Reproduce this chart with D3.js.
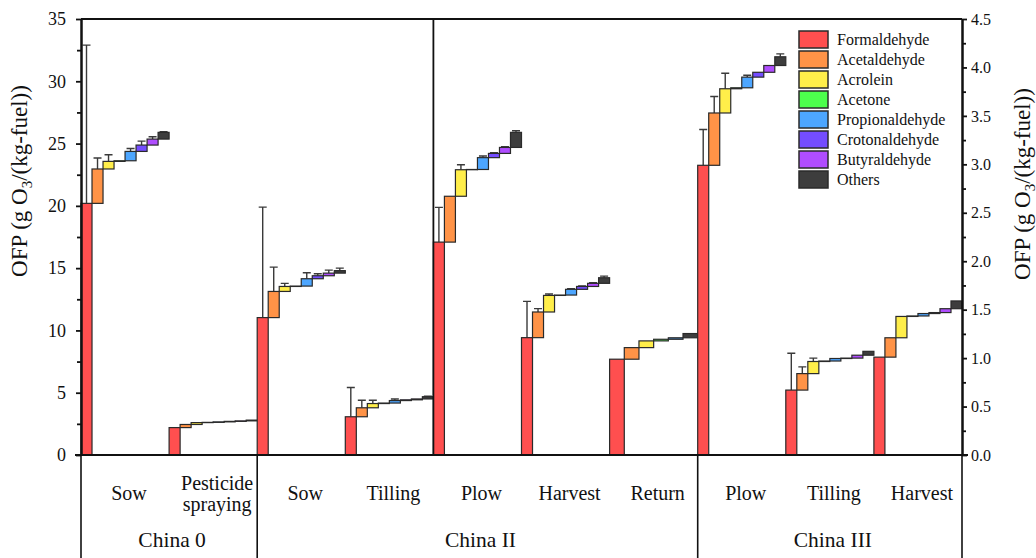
<!DOCTYPE html>
<html>
<head>
<meta charset="utf-8">
<script src="https://cdn.jsdelivr.net/npm/d3@7"></script>
<style>
  html, body { margin: 0; padding: 0; background: #fff; overflow: hidden; }
  svg { display: block; }
  svg text { font-family: 'Liberation Serif', 'Times New Roman', Times, serif; }
</style>
</head>
<body>
<svg id="chart"></svg>
<script>
// Stages along the x axis and the region each one belongs to
const stages = ['Sow', 'Pesticide spraying', 'Sow', 'Tilling', 'Plow', 'Harvest', 'Return', 'Plow', 'Tilling', 'Harvest']
const stageRegion = ['China 0', 'China 0', 'China II', 'China II', 'China II', 'China II', 'China II', 'China III', 'China III', 'China III']
const regions = ['China 0', 'China II', 'China III']

const species = ['Formaldehyde', 'Acetaldehyde', 'Acrolein', 'Acetone', 'Propionaldehyde', 'Crotonaldehyde', 'Butyraldehyde', 'Others']
const speciesColors = ['#ff4f4f', '#ff9347', '#ffee4a', '#4dff4d', '#4da6ff', '#744dff', '#b04dff', '#3d3d3d']

// OFP contribution of each species (China 0 / II on left axis, China III on right axis)
const c0Sow = [20.2, 2.76, 0.61, 0.05, 0.75, 0.51, 0.48, 0.54]
const c0Pesticide = [2.2, 0.25, 0.15, 0.02, 0.04, 0.04, 0.04, 0.06]
const c2Sow = [11.03, 2.1, 0.4, 0.03, 0.59, 0.24, 0.21, 0.2]
const c2Tilling = [3.07, 0.72, 0.34, 0.04, 0.2, 0.06, 0.07, 0.18]
const c2Plow = [17.09, 3.68, 2.13, 0.02, 0.95, 0.34, 0.48, 1.21]
const c2Harvest = [9.42, 2.06, 1.33, 0.03, 0.46, 0.23, 0.25, 0.45]
const c2Return = [7.69, 0.93, 0.54, 0.13, 0.12, null, null, 0.34]
const c3Plow = [2.99, 0.54, 0.25, 0.01, 0.11, 0.05, 0.07, 0.09]
const c3Tilling = [0.67, 0.17, 0.125, 0.005, 0.026, 0.004, 0.03, 0.04]
const c3Harvest = [1.01, 0.2, 0.22, 0.005, 0.025, 0.01, 0.04, 0.08]

// standard deviations
const c0SowErr = [12.7, 0.88, 0.53, 0, 0.23, 0.32, 0.19, 0.05]
const c0PesticideErr = [0, 0, 0, 0, 0, 0, 0, 0]
const c2SowErr = [8.87, 1.95, 0.25, 0, 0.48, 0.16, 0.24, 0.2]
const c2TillingErr = [2.35, 0.61, 0.27, 0, 0.13, 0, 0, 0.05]
const c2PlowErr = [2.79, 0, 0.4, 0, 0.13, 0.05, 0.05, 0.13]
const c2HarvestErr = [2.91, 0.27, 0.11, 0, 0.05, 0.05, 0.05, 0.13]
const c2ReturnErr = [0, 0, 0, 0, 0, null, null, 0]
const c3PlowErr = [0.37, 0.17, 0.16, 0, 0.02, 0, 0, 0.03]
const c3TillingErr = [0.38, 0.07, 0.035, 0, 0, 0, 0, 0]
const c3HarvestErr = [0, 0, 0, 0, 0, 0, 0, 0]

const stageValues = [c0Sow, c0Pesticide, c2Sow, c2Tilling, c2Plow, c2Harvest, c2Return, c3Plow, c3Tilling, c3Harvest]
const stageErrors = [c0SowErr, c0PesticideErr, c2SowErr, c2TillingErr, c2PlowErr, c2HarvestErr, c2ReturnErr, c3PlowErr, c3TillingErr, c3HarvestErr]

const font = "'Liberation Serif', 'Times New Roman', Times, serif"
const width = 1036
const height = 558
const margin = { top: 19, right: 74, bottom: 103, left: 81 }
const innerWidth = width - margin.left - margin.right
const innerHeight = height - margin.top - margin.bottom

const svg = d3.select('#chart')
  .attr('width', width)
  .attr('height', height)
  .attr('font-family', font)

const g = svg.append('g')
  .attr('transform', `translate(${margin.left},${margin.top})`)

const xScale = d3.scaleBand()
  .domain(d3.range(stages.length))
  .range([0, innerWidth])

const yLeft = d3.scaleLinear().domain([0, 35]).range([innerHeight, 0])
const yRight = d3.scaleLinear().domain([0, 4.5]).range([innerHeight, 0])

// Cascading steps
stages.forEach((stage, i) => {
  const y = stageRegion[i] === 'China III' ? yRight : yLeft
  const steps = []
  let cum = 0
  stageValues[i].forEach((v, k) => {
    if (v == null) return
    steps.push({ k, y0: cum, y1: cum + v, err: stageErrors[i][k] })
    cum += v
  })
  const step = xScale.bandwidth() / steps.length
  const sg = g.append('g')

  sg.selectAll('.err')
    .data(steps.filter(d => d.err > 0))
    .enter().append('path')
    .attr('class', 'err')
    .attr('d', d => {
      const j = steps.indexOf(d)
      const cx = xScale(i) + step * (j + 0.5)
      return `M${cx},${y(d.y1)}V${y(d.y1 + d.err)}M${cx - 4},${y(d.y1 + d.err)}H${cx + 4}`
    })
    .attr('fill', 'none')
    .attr('stroke', '#3a3a3a')
    .attr('stroke-width', 1.4)

  sg.selectAll('.step')
    .data(steps)
    .enter().append('rect')
    .attr('class', 'step')
    .attr('x', (d, j) => xScale(i) + step * j)
    .attr('y', d => y(d.y1))
    .attr('width', step)
    .attr('height', d => y(d.y0) - y(d.y1))
    .attr('fill', d => speciesColors[d.k])
    .attr('stroke', '#2a2a2a')
    .attr('stroke-width', 1.2)
})

// Frame and divider
g.append('line')
  .attr('x1', 0).attr('x2', innerWidth)
  .attr('y1', 0).attr('y2', 0)
  .attr('stroke', '#111').attr('stroke-width', 1.8)
g.append('line')
  .attr('x1', xScale(4)).attr('x2', xScale(4))
  .attr('y1', 0).attr('y2', innerHeight)
  .attr('stroke', '#111').attr('stroke-width', 1.8)

// Axes
const styleAxis = (sel, size) => {
  sel.attr('font-family', font)
  sel.select('.domain').attr('stroke', '#111').attr('stroke-width', 2)
  sel.selectAll('.tick line').attr('stroke', '#111').attr('stroke-width', 1.8)
  sel.selectAll('.tick text')
    .attr('font-size', size)
    .attr('fill', '#111')
}

g.append('g')
  .call(d3.axisLeft(yLeft).tickValues(d3.range(2.5, 35, 5)).tickSize(4).tickFormat('').tickSizeOuter(0))
  .call(styleAxis, '18px')
g.append('g')
  .call(d3.axisLeft(yLeft).tickValues(d3.range(0, 36, 5)).tickSize(5).tickPadding(10).tickSizeOuter(0))
  .call(styleAxis, '18px')

g.append('g')
  .attr('transform', `translate(${innerWidth},0)`)
  .call(d3.axisRight(yRight).tickValues(d3.range(0.25, 4.5, 0.5)).tickSize(4).tickFormat('').tickSizeOuter(0))
  .call(styleAxis, '16px')
g.append('g')
  .attr('transform', `translate(${innerWidth},0)`)
  .call(d3.axisRight(yRight).tickValues(d3.range(0, 4.51, 0.5)).tickSize(5).tickPadding(4).tickFormat(d3.format('.1f')).tickSizeOuter(0))
  .call(styleAxis, '16px')

g.append('line')
  .attr('x1', -6).attr('x2', innerWidth + 6)
  .attr('y1', innerHeight).attr('y2', innerHeight)
  .attr('stroke', '#111').attr('stroke-width', 2)

// Category labels under the axis
const regionStart = r => xScale(stageRegion.indexOf(r))
const regionEnd = r => xScale(stageRegion.lastIndexOf(r)) + xScale.bandwidth()

const dividers = [...regions.map(regionStart), innerWidth]
g.selectAll('.divider')
  .data(dividers)
  .enter().append('line')
  .attr('class', 'divider')
  .attr('x1', d => d).attr('x2', d => d)
  .attr('y1', innerHeight).attr('y2', height - margin.top)
  .attr('stroke', '#111').attr('stroke-width', 1.6)

stages.forEach((s, i) => {
  const words = s.split(' ')
  const cx = xScale(i) + xScale.bandwidth() / 2 + 4
  const t = g.append('text')
    .attr('x', cx)
    .attr('y', innerHeight + 45 - (words.length - 1) * 10)
    .attr('text-anchor', 'middle')
    .attr('font-size', '20px')
    .attr('fill', '#111')
  words.forEach((w, k) => {
    t.append('tspan')
      .attr('x', cx)
      .attr('dy', k === 0 ? 0 : 21)
      .text(w)
  })
})

g.selectAll('.region')
  .data(regions)
  .enter().append('text')
  .attr('class', 'region')
  .attr('x', d => (regionStart(d) + regionEnd(d)) / 2 + 3)
  .attr('y', innerHeight + 92)
  .attr('text-anchor', 'middle')
  .attr('font-size', '21.5px')
  .attr('fill', '#111')
  .text(d => d)

// Axis titles
const addTitle = (x, y) => {
  const t = svg.append('text')
    .attr('transform', `translate(${x},${y}) rotate(-90)`)
    .attr('text-anchor', 'middle')
    .attr('font-size', '23px')
    .attr('fill', '#111')
  t.append('tspan').text('OFP (g O')
  t.append('tspan').attr('font-size', '15px').attr('dy', 5).text('3')
  t.append('tspan').attr('dy', -5).text('/(kg-fuel))')
}
addTitle(27, 181)
addTitle(1030, 184)

// Legend
const legend = svg.append('g')
  .attr('transform', 'translate(799,31)')

const item = legend.selectAll('.item')
  .data(species)
  .enter().append('g')
  .attr('class', 'item')
  .attr('transform', (d, i) => `translate(0,${i * 20})`)

item.append('rect')
  .attr('width', 29)
  .attr('height', 17)
  .attr('fill', (d, i) => speciesColors[i])
  .attr('stroke', '#2a2a2a')
  .attr('stroke-width', 1.5)

item.append('text')
  .attr('x', 38)
  .attr('y', 14)
  .attr('font-size', '16px')
  .attr('fill', '#111')
  .text(d => d)
</script>
</body>
</html>
